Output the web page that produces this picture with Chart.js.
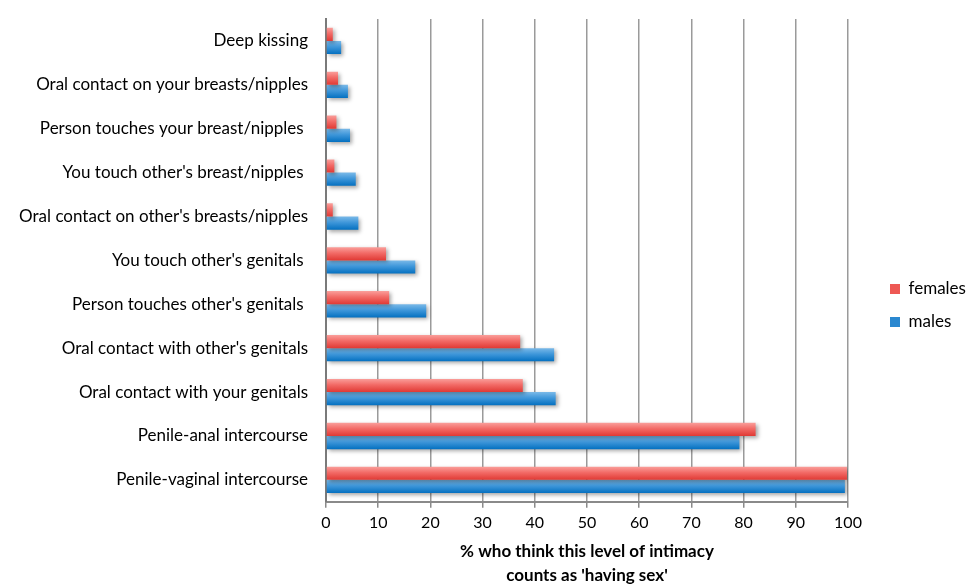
<!DOCTYPE html>
<html>
<head>
<meta charset="utf-8">
<script src="https://cdn.jsdelivr.net/npm/chart.js@4/dist/chart.umd.min.js"></script>
<style>
  html, body { margin: 0; padding: 0; background: #fff; overflow: hidden; }
  #wrap { position: relative; width: 967px; height: 588px; }
</style>
</head>
<body>
<div id="wrap"><canvas id="c"></canvas></div>
<script>
const categories = [
  "Deep kissing",
  "Oral contact on your breasts/nipples",
  "Person touches your breast/nipples ",
  "You touch other's breast/nipples ",
  "Oral contact on other's breasts/nipples",
  "You touch other's genitals ",
  "Person touches other's genitals ",
  "Oral contact with other's genitals",
  "Oral contact with your genitals",
  "Penile-anal intercourse",
  "Penile-vaginal intercourse"
];
const females = [1.3, 2.3, 2.0, 1.6, 1.3, 11.5, 12.1, 37.2, 37.7, 82.3, 99.8];
const males   = [2.9, 4.2, 4.6, 5.7, 6.2, 17.1, 19.2, 43.7, 44.0, 79.2, 99.4];
const xTicks = [0, 10, 20, 30, 40, 50, 60, 70, 80, 90, 100];
const seriesNames = ["females", "males"];
const xTitle = ["% who think this level of intimacy", "counts as 'having sex'"];

const FONT = "Lato, 'Open Sans', sans-serif";
const CAT_PCT = 0.6;

function barGradient(c, stops, fallback) {
  const chart = c.chart;
  const y = chart.scales && chart.scales.y;
  if (c.type !== 'data' || !y || !chart.chartArea) return fallback;
  const center = y.getPixelForValue(c.dataIndex);
  const cat = y.height / categories.length;
  const bh = cat * CAT_PCT / 2;
  const top = center - cat * CAT_PCT / 2 + c.datasetIndex * bh;
  const g = chart.ctx.createLinearGradient(0, top, 0, top + bh);
  stops.forEach(s => g.addColorStop(s[0], s[1]));
  return g;
}
const redStops = [[0, '#fa9e9a'], [0.45, '#f26a66'], [1, '#e03934']];
const blueStops = [[0, '#7ab9e8'], [0.45, '#3f97da'], [1, '#0470c0']];

const shadowPlugin = {
  id: 'barShadow',
  beforeDatasetsDraw(chart) {
    const ctx = chart.ctx;
    ctx.save();
    ctx.shadowColor = 'rgba(0,0,0,0.35)';
    ctx.shadowBlur = 4;
    ctx.shadowOffsetX = 2;
    ctx.shadowOffsetY = 2;
  },
  afterDatasetsDraw(chart) { chart.ctx.restore(); }
};

const LEG_PAD = 16;
const LEG_FONT = 17;
const legendPlace = {
  id: 'legendPlace',
  beforeLayout(chart) {
    const lg = chart.legend;
    if (lg && !lg._patched) {
      const orig = lg.fit;
      lg.fit = function () { orig.call(this); this.width = 119; };
      lg._patched = true;
    }
  },
  afterLayout(chart) {
    const lg = chart.legend;
    if (!lg) return;
    const h = lg.bottom - lg.top;
    lg.left = 890 - LEG_PAD;
    lg.top = 289 - LEG_FONT / 2 - LEG_PAD;
    lg.bottom = lg.top + h;
  }
};

new Chart(document.getElementById('c'), {
  type: 'bar',
  data: {
    labels: categories,
    datasets: [
      { label: seriesNames[0], data: females,
        backgroundColor: c => barGradient(c, redStops, '#ee5854'),
        categoryPercentage: CAT_PCT, barPercentage: 1.0, borderWidth: 0 },
      { label: seriesNames[1], data: males,
        backgroundColor: c => barGradient(c, blueStops, '#2a88d0'),
        categoryPercentage: CAT_PCT, barPercentage: 1.0, borderWidth: 0 }
    ]
  },
  options: {
    indexAxis: 'y',
    responsive: true,
    maintainAspectRatio: false,
    animation: false,
    layout: { padding: { top: 19, left: 10, right: 0, bottom: 0 } },
    scales: {
      x: {
        min: 0, max: 100,
        afterBuildTicks(s) { s.ticks = xTicks.map(v => ({ value: v })); },
        grid: { color: '#9a9a9a', lineWidth: 1.5, drawTicks: true, tickLength: 6, tickColor: '#8a8a8a' },
        border: { display: true, color: '#8a8a8a', width: 2 },
        ticks: { color: '#000', font: { family: FONT, size: 16 }, padding: 5, maxRotation: 0 },
        title: { display: true, text: xTitle, color: '#000',
                 font: { family: FONT, size: 17, weight: 'bold', lineHeight: 24 / 17 },
                 padding: { top: 3, bottom: 0 } }
      },
      y: {
        afterFit(s) { s.width = 316; s.paddingTop = 0; s.paddingBottom = 0; },
        grid: { display: false, drawTicks: false },
        border: { display: true, color: '#7a7a7a', width: 2 },
        ticks: { color: '#000', font: { family: FONT, size: 17 }, padding: 18, autoSkip: false }
      }
    },
    plugins: {
      legend: {
        position: 'right',
        align: 'start',
        labels: {
          boxWidth: 10, boxHeight: 10, padding: LEG_PAD, color: '#000',
          font: { family: FONT, size: LEG_FONT },
          generateLabels(chart) {
            return chart.data.datasets.map((d, i) => ({
              text: d.label,
              fillStyle: i === 0 ? '#ee5854' : '#2a88d0',
              strokeStyle: 'rgba(0,0,0,0)', lineWidth: 0,
              hidden: false, datasetIndex: i
            }));
          }
        }
      },
      tooltip: { enabled: false }
    }
  },
  plugins: [shadowPlugin, legendPlace]
});
</script>
</body>
</html>
